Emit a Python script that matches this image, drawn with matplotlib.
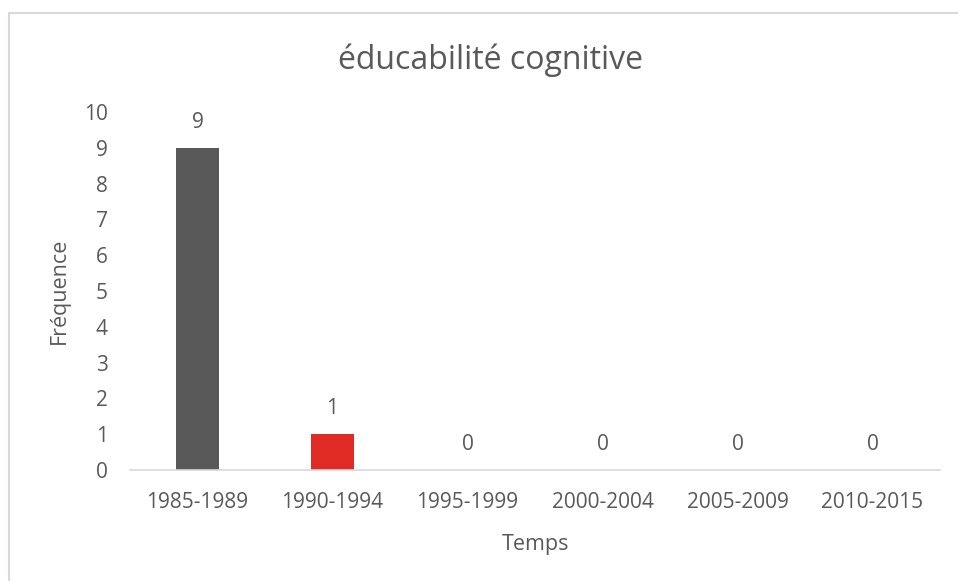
import matplotlib
matplotlib.use("Agg")
import matplotlib.pyplot as plt
from matplotlib.patches import Rectangle

categories = ["1985-1989", "1990-1994", "1995-1999", "2000-2004", "2005-2009", "2010-2015"]
values = [9, 1, 0, 0, 0, 0]
bar_colors = ["#595959", "#E02B25", "#595959", "#595959", "#595959", "#595959"]
yticks = list(range(0, 11))

W, H = 958, 581
fig = plt.figure(figsize=(W / 100, H / 100), dpi=100)
plt.rcParams['font.family'] = ['Open Sans', 'DejaVu Sans']
txt = "#595959"

# chart border (left & top visible)
fig.patches.append(Rectangle((9 / W, -0.05), 1.2, (581 - 13) / H + 0.05,
                             transform=fig.transFigure, fill=False,
                             edgecolor="#D9D9D9", linewidth=1.5))

left, right, top, bottom = 130, 940, 112, 470
ax = fig.add_axes([left / W, (H - bottom) / H, (right - left) / W, (bottom - top) / H])
x = range(len(categories))
bars = ax.bar(x, values, width=0.32, color=bar_colors)
ax.set_xlim(-0.5, len(categories) - 0.5)
ax.set_ylim(0, 10)
ax.set_yticks(yticks)
ax.set_xticks(list(x))
ax.set_xticklabels(categories)
for s in ["top", "right", "left"]:
    ax.spines[s].set_visible(False)
ax.spines["bottom"].set_color("#D9D9D9")
ax.spines["bottom"].set_linewidth(1.2)
ax.tick_params(axis="both", length=0, labelsize=15, colors=txt)
ax.tick_params(axis="y", pad=16)
ax.tick_params(axis="x", pad=16)
for xi, v in zip(x, values):
    ax.annotate(str(v), (xi, v), xytext=(0, 18.5), textcoords="offset points",
                ha="center", va="center", fontsize=15, color=txt)

ax.set_ylabel("Fréquence", fontsize=15.5, color=txt, labelpad=10)
ax.set_xlabel("Temps", fontsize=15.5, color=txt, labelpad=15)
fig.text(490 / W, (H - 60) / H, "éducabilité cognitive", ha="center", va="center",
         fontsize=23, color=txt)

fig.savefig("out.png", dpi=100)
